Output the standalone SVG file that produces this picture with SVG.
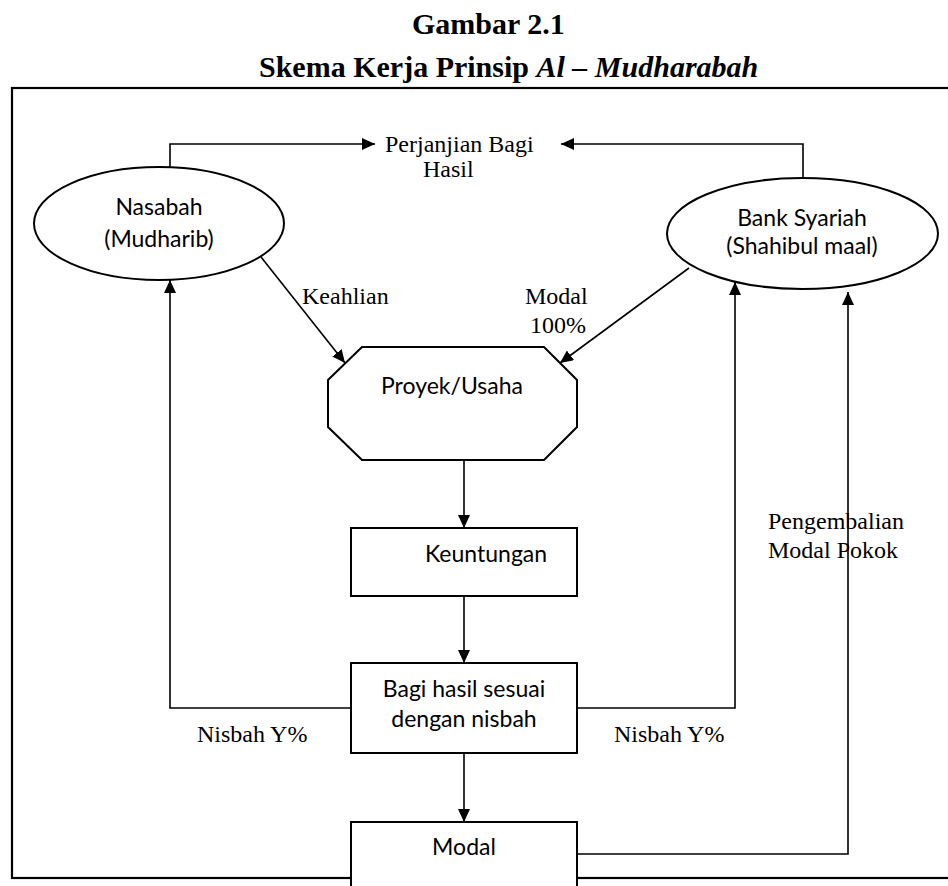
<svg xmlns="http://www.w3.org/2000/svg" width="948" height="886" viewBox="0 0 948 886">
<style>
.title{font-family:"Liberation Serif","Times New Roman",serif;font-size:30px;font-weight:bold;fill:#000}
.lbl{font-family:"Liberation Serif","Times New Roman",serif;font-size:24px;fill:#000}
.nt{font-family:Lato,"Open Sans",sans-serif;font-size:23px;fill:#000}
.shape{fill:#fff;stroke:#000;stroke-width:2}
.conn{fill:none;stroke:#000;stroke-width:1.6}
.frame{fill:none;stroke:#000;stroke-width:2.2}
</style>
<defs>
<marker id="arr" markerUnits="userSpaceOnUse" markerWidth="14" markerHeight="12" refX="13" refY="6" orient="auto">
<path d="M0,0 L13,6 L0,12 z" fill="#000"/>
</marker>
</defs>
<rect width="948" height="886" fill="#fff"/>
<text class="title" x="412" y="34">Gambar 2.1</text>
<text class="title" x="259" y="77">Skema Kerja Prinsip <tspan font-style="italic">Al – Mudharabah</tspan></text>
<rect class="frame" x="12" y="88" width="960" height="790"/>
<g id="connectors">
<polyline class="conn" points="170,167 170,144 375,144" marker-end="url(#arr)"/>
<polyline class="conn" points="803,178 803,144 561,144" marker-end="url(#arr)"/>
<line class="conn" x1="261" y1="257" x2="345" y2="363" marker-end="url(#arr)"/>
<line class="conn" x1="689" y1="268" x2="560" y2="363" marker-end="url(#arr)"/>
<line class="conn" x1="464" y1="460" x2="464" y2="528" marker-end="url(#arr)"/>
<line class="conn" x1="464" y1="596" x2="464" y2="663" marker-end="url(#arr)"/>
<line class="conn" x1="464" y1="753" x2="464" y2="822" marker-end="url(#arr)"/>
<polyline class="conn" points="351,708 170,708 170,280" marker-end="url(#arr)"/>
<polyline class="conn" points="577,708 735,708 735,282" marker-end="url(#arr)"/>
<polyline class="conn" points="577,854 848,854 848,292" marker-end="url(#arr)"/>
</g>
<g id="perjanjian">
<text class="lbl" x="385" y="152">Perjanjian Bagi</text>
<text class="lbl" x="423" y="177">Hasil</text>
</g>
<g id="nasabah">
<ellipse class="shape" cx="159" cy="223.5" rx="125" ry="56.5"/>
<text class="nt" x="159" y="215" text-anchor="middle">Nasabah</text>
<text class="nt" x="159" y="247" text-anchor="middle">(Mudharib)</text>
</g>
<g id="bank">
<ellipse class="shape" cx="802.5" cy="233.5" rx="135.5" ry="55.5"/>
<text class="nt" x="802" y="226" text-anchor="middle">Bank Syariah</text>
<text class="nt" x="802" y="254" text-anchor="middle">(Shahibul maal)</text>
</g>
<g id="proyek">
<polygon class="shape" points="362,347 544,347 577,380 577,427 544,460 362,460 328,427 328,380"/>
<text class="nt" x="452" y="394" text-anchor="middle">Proyek/Usaha</text>
</g>
<g id="keuntungan">
<rect class="shape" x="351" y="528" width="226" height="68"/>
<text class="nt" x="425" y="562">Keuntungan</text>
</g>
<g id="bagihasil">
<rect class="shape" x="351" y="663" width="226" height="90"/>
<text class="nt" x="464" y="697" text-anchor="middle">Bagi hasil sesuai</text>
<text class="nt" x="464" y="727" text-anchor="middle">dengan nisbah</text>
</g>
<g id="modal">
<rect class="shape" x="351" y="822" width="226" height="80"/>
<text class="nt" x="464" y="855" text-anchor="middle">Modal</text>
</g>
<g id="labels">
<text class="lbl" x="302" y="304">Keahlian</text>
<text class="lbl" x="525" y="304">Modal</text>
<text class="lbl" x="530" y="333">100%</text>
<text class="lbl" x="197" y="742">Nisbah Y%</text>
<text class="lbl" x="614" y="742">Nisbah Y%</text>
<text class="lbl" x="768" y="529">Pengembalian</text>
<text class="lbl" x="768" y="558">Modal Pokok</text>
</g>
</svg>
